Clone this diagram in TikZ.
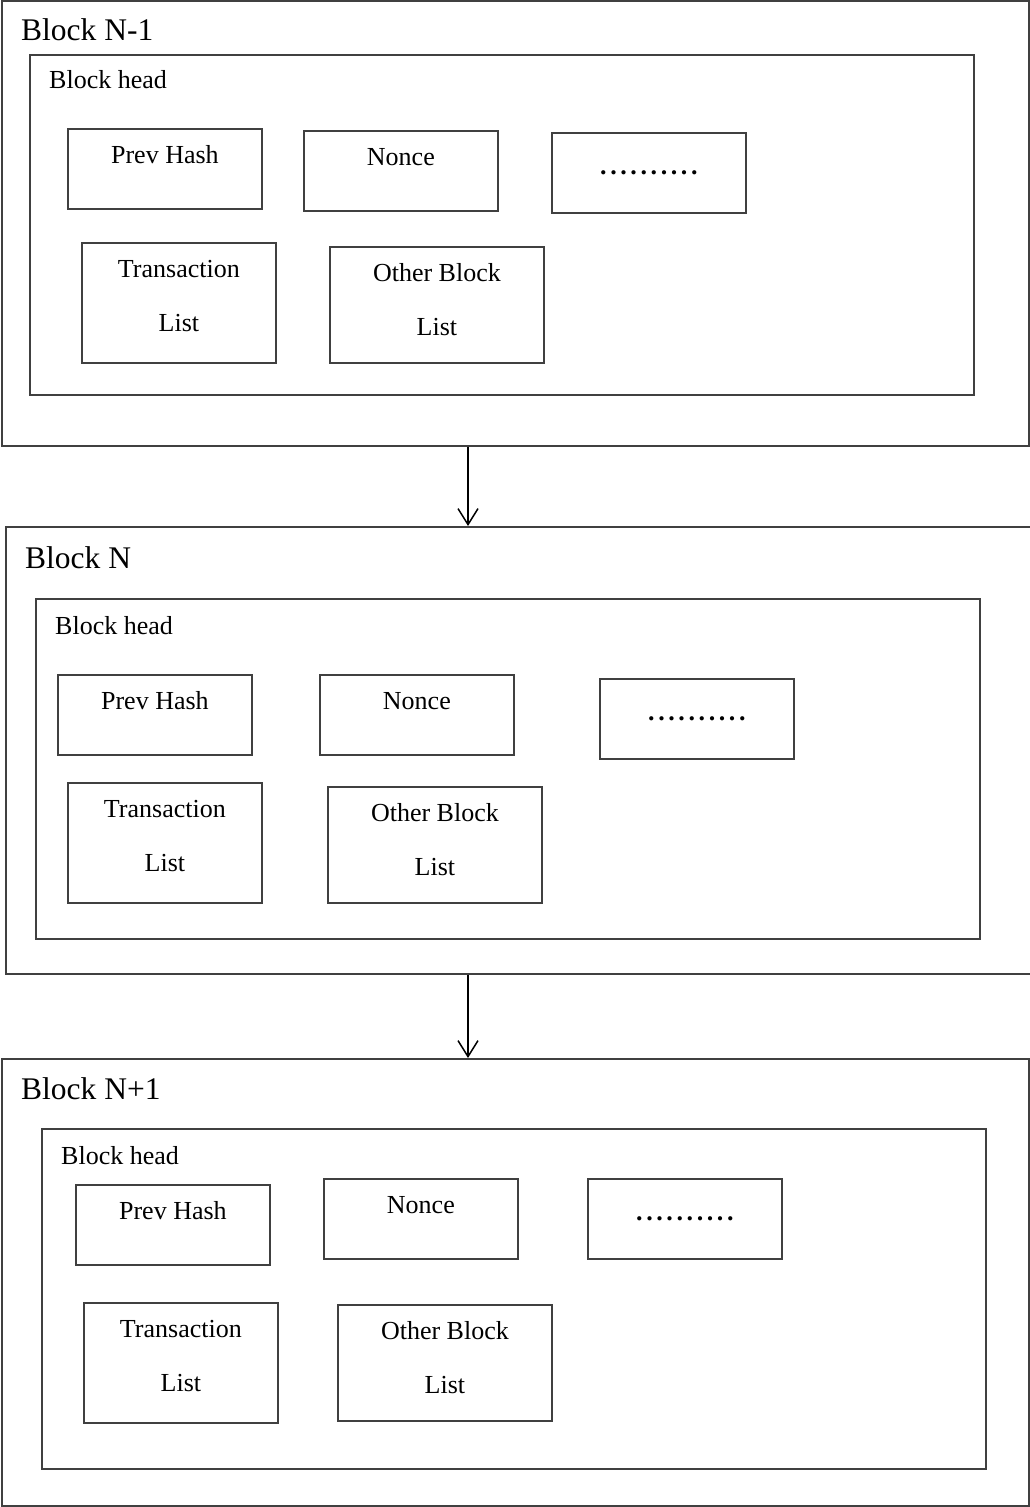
\documentclass[tikz,border=0pt]{standalone}
\usepackage{fontspec}
\setmainfont{Liberation Serif}
\usetikzlibrary{arrows.meta}

\newcommand{\dotrow}{\bfseries\foreach \d in {1,...,10}{.\kern3.6pt}\unkern}

\begin{document}
\begin{tikzpicture}[x=1pt,y=-1pt,>={Straight Barb[length=16pt,width=20pt]},
    blockbox/.style={draw=black!75,line width=1.8pt,inner sep=0pt,anchor=north west},
    field/.style={blockbox,minimum width=194pt,minimum height=80pt},
    listbox/.style={blockbox,minimum width=194pt,minimum height=120pt},
    otherbox/.style={blockbox,minimum width=214pt,minimum height=116pt},
    title/.style={anchor=base west,inner sep=0pt,font=\fontsize{31.5}{38}\selectfont},
    fieldtext/.style={anchor=base,inner sep=0pt,font=\fontsize{26}{31}\selectfont}]
  \clip (0,0) rectangle (1030,1507);
  \coordinate (axis) at (468,0);

  % block N-1
  \node[blockbox,minimum width=1027pt,minimum height=445pt] (blkA) at (1,0) {};
  \node[title] (blkAname) at (21,40) {Block N-1};
  \node[blockbox,minimum width=944pt,minimum height=340pt] (headA) at (29,54) {};
  \node[fieldtext,anchor=base west] (headAname) at (49,88) {Block head};
  \node[field]    (hashA)  at (67,128)  {};
  \node[field]    (nonceA) at (303,130) {};
  \node[field]    (moreA)  at (551,132) {};
  \node[listbox]  (txA)    at (81,242)  {};
  \node[otherbox] (otherA) at (329,246) {};
  \node[fieldtext] (hashAt)   at ([yshift=-35pt]hashA.north)  {Prev Hash};
  \node[fieldtext] (nonceAt)  at ([yshift=-35pt]nonceA.north) {Nonce};
  \node[fieldtext] (moreAt)   at ([yshift=-42pt]moreA.north)  {\dotrow};
  \node[fieldtext] (txAt)     at ([yshift=-35pt]txA.north)    {Transaction};
  \node[fieldtext] (txAl)     at ([yshift=-89pt]txA.north)    {List};
  \node[fieldtext] (otherAt)  at ([yshift=-35pt]otherA.north) {Other Block};
  \node[fieldtext] (otherAl)  at ([yshift=-89pt]otherA.north) {List};

  % block N
  \node[blockbox,minimum width=1040pt,minimum height=447pt] (blkB) at (5,526) {};
  \node[title] (blkBname) at (25,568) {Block N};
  \node[blockbox,minimum width=944pt,minimum height=340pt] (headB) at (35,598) {};
  \node[fieldtext,anchor=base west] (headBname) at (55,634) {Block head};
  \node[field]    (hashB)  at (57,674)  {};
  \node[field]    (nonceB) at (319,674) {};
  \node[field]    (moreB)  at (599,678) {};
  \node[listbox]  (txB)    at (67,782)  {};
  \node[otherbox] (otherB) at (327,786) {};
  \node[fieldtext] (hashBt)   at ([yshift=-35pt]hashB.north)  {Prev Hash};
  \node[fieldtext] (nonceBt)  at ([yshift=-35pt]nonceB.north) {Nonce};
  \node[fieldtext] (moreBt)   at ([yshift=-42pt]moreB.north)  {\dotrow};
  \node[fieldtext] (txBt)     at ([yshift=-35pt]txB.north)    {Transaction};
  \node[fieldtext] (txBl)     at ([yshift=-89pt]txB.north)    {List};
  \node[fieldtext] (otherBt)  at ([yshift=-35pt]otherB.north) {Other Block};
  \node[fieldtext] (otherBl)  at ([yshift=-89pt]otherB.north) {List};

  % block N+1
  \node[blockbox,minimum width=1027pt,minimum height=447pt] (blkC) at (1,1058) {};
  \node[title] (blkCname) at (21,1099) {Block N+1};
  \node[blockbox,minimum width=944pt,minimum height=340pt] (headC) at (41,1128) {};
  \node[fieldtext,anchor=base west] (headCname) at (61,1164) {Block head};
  \node[field]    (hashC)  at (75,1184)  {};
  \node[field]    (nonceC) at (323,1178) {};
  \node[field]    (moreC)  at (587,1178) {};
  \node[listbox]  (txC)    at (83,1302)  {};
  \node[otherbox] (otherC) at (337,1304) {};
  \node[fieldtext] (hashCt)   at ([yshift=-35pt]hashC.north)  {Prev Hash};
  \node[fieldtext] (nonceCt)  at ([yshift=-35pt]nonceC.north) {Nonce};
  \node[fieldtext] (moreCt)   at ([yshift=-42pt]moreC.north)  {\dotrow};
  \node[fieldtext] (txCt)     at ([yshift=-35pt]txC.north)    {Transaction};
  \node[fieldtext] (txCl)     at ([yshift=-89pt]txC.north)    {List};
  \node[fieldtext] (otherCt)  at ([yshift=-35pt]otherC.north) {Other Block};
  \node[fieldtext] (otherCl)  at ([yshift=-89pt]otherC.north) {List};

  % chain
  \draw[->,line width=1.5pt] (blkA.south -| axis) -- (blkB.north -| axis);
  \draw[->,line width=1.5pt] (blkB.south -| axis) -- (blkC.north -| axis);
\end{tikzpicture}
\end{document}
